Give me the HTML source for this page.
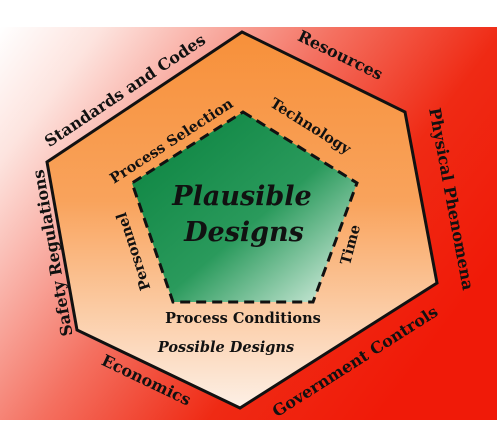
<!DOCTYPE html>
<html><head><meta charset="utf-8"><style>
html,body{margin:0;padding:0;background:#fff;width:502px;height:433px;overflow:hidden}
svg{display:block}
text{font-family:"DejaVu Serif","Liberation Serif",serif;font-weight:bold;fill:#111}
</style></head><body>
<svg width="502" height="433" viewBox="0 0 502 433">
<defs>
<linearGradient id="bg" x1="0" y1="0" x2="1" y2="0.6">
<stop offset="0" stop-color="#ffffff"/><stop offset="0.15" stop-color="#fde4df"/><stop offset="0.5" stop-color="#f47060"/><stop offset="0.75" stop-color="#ef2a14"/><stop offset="1" stop-color="#f01a08"/></linearGradient>
<linearGradient id="hex" x1="0" y1="0" x2="0" y2="1">
<stop offset="0" stop-color="#f7903a"/><stop offset="0.45" stop-color="#f9a35c"/><stop offset="1" stop-color="#fdf0e6"/></linearGradient>
<linearGradient id="pent" x1="0.2" y1="0.2" x2="1" y2="1">
<stop offset="0" stop-color="#148a48"/><stop offset="0.45" stop-color="#2a9a5c"/><stop offset="1" stop-color="#e6f5ec"/></linearGradient>
</defs>
<rect x="0" y="27" width="497" height="393" fill="url(#bg)"/>
<polygon points="242,32 405,112 437,283 240,408 77,330 47,162" fill="url(#hex)" stroke="#111" stroke-width="3"/>
<polygon points="243,112 357,183 313,302 173,302 132,183" fill="url(#pent)" stroke="#111" stroke-width="3" stroke-dasharray="10,6"/>
<g font-size="16">
<text x="128" y="95" text-anchor="middle" transform="rotate(-33.7 128 95)">Standards and Codes</text>
<text x="338" y="60" text-anchor="middle" transform="rotate(26 338 60)">Resources</text>
<text x="446" y="200" text-anchor="middle" transform="rotate(79.4 446 200)">Physical Phenomena</text>
<text x="358" y="366" text-anchor="middle" transform="rotate(-32.4 358 366)">Government Controls</text>
<text x="144" y="385" text-anchor="middle" transform="rotate(25.6 144 385)">Economics</text>
<text x="58" y="252" text-anchor="middle" transform="rotate(-100 58 252)">Safety Regulations</text>
</g>
<g font-size="14.5">
<text x="174" y="145" text-anchor="middle" transform="rotate(-33 174 145)">Process Selection</text>
<text x="308" y="130" text-anchor="middle" transform="rotate(32 308 130)">Technology</text>
<text x="138" y="250" text-anchor="middle" transform="rotate(-108 138 250)">Personnel</text>
<text x="355" y="246" text-anchor="middle" transform="rotate(-75 355 246)">Time</text>
<text x="243" y="323" text-anchor="middle">Process Conditions</text>
<text x="226" y="352" text-anchor="middle" font-style="italic">Possible Designs</text>
</g>
<g font-size="27" font-style="italic">
<text x="242" y="205" text-anchor="middle">Plausible</text>
<text x="244" y="241" text-anchor="middle">Designs</text>
</g>
</svg>
</body></html>
